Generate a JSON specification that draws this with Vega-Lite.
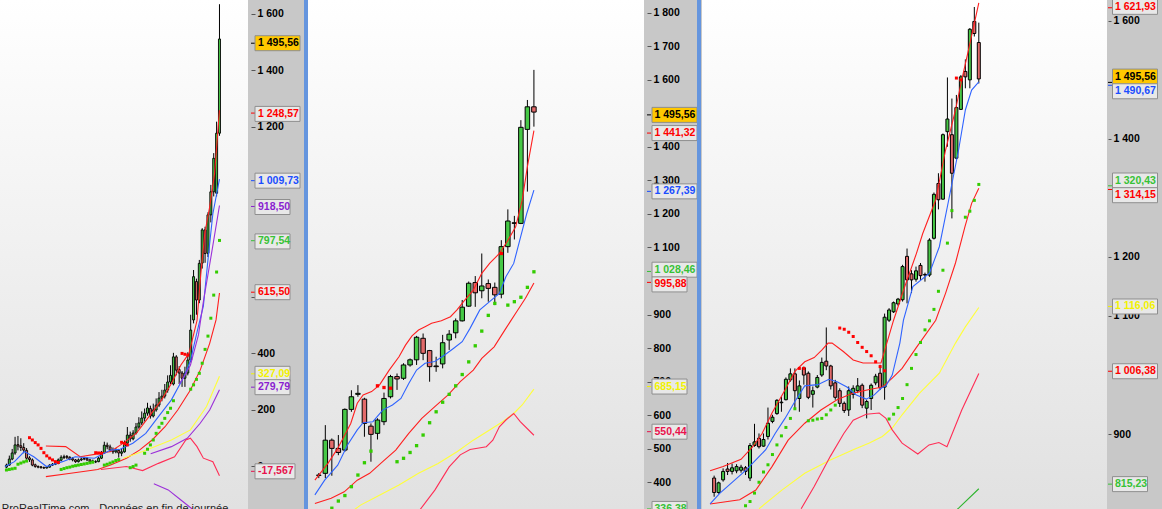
{
  "$schema": "https://vega.github.io/schema/vega-lite/v6.json",
  "padding": 0,
  "spacing": 0,
  "config": {"view": {"stroke": null}},
  "datasets": {
    "c1": [
      {"i":0,"o":12,"h":24,"l":8,"c":19},{"i":1,"o":19,"h":52,"l":17,"c":40},{"i":2,"o":40,"h":75,"l":36,"c":61},
      {"i":3,"o":61,"h":117,"l":55,"c":89},{"i":4,"o":90,"h":120,"l":70,"c":85},{"i":5,"o":86,"h":112,"l":68,"c":80},
      {"i":6,"o":80,"h":95,"l":60,"c":71},{"i":7,"o":70,"h":78,"l":38,"c":43},{"i":8,"o":44,"h":50,"l":30,"c":38},
      {"i":9,"o":37,"h":42,"l":15,"c":19},{"i":10,"o":20,"h":24,"l":10,"c":14},{"i":11,"o":14,"h":18,"l":8,"c":12},
      {"i":12,"o":13,"h":16,"l":7,"c":10},{"i":13,"o":10,"h":14,"l":6,"c":9},{"i":14,"o":9,"h":16,"l":7,"c":12},
      {"i":15,"o":12,"h":22,"l":10,"c":19},{"i":16,"o":19,"h":26,"l":16,"c":22},{"i":17,"o":22,"h":29,"l":19,"c":25},
      {"i":18,"o":25,"h":42,"l":22,"c":37},{"i":19,"o":36,"h":53,"l":33,"c":46},{"i":20,"o":45,"h":55,"l":40,"c":48},
      {"i":21,"o":49,"h":54,"l":40,"c":46},{"i":22,"o":46,"h":50,"l":36,"c":40},{"i":23,"o":41,"h":47,"l":32,"c":37},
      {"i":24,"o":37,"h":40,"l":27,"c":31},{"i":25,"o":31,"h":42,"l":28,"c":37},{"i":26,"o":37,"h":45,"l":33,"c":40},
      {"i":27,"o":40,"h":48,"l":36,"c":42},{"i":28,"o":42,"h":46,"l":33,"c":37},{"i":29,"o":37,"h":41,"l":28,"c":31},
      {"i":30,"o":33,"h":38,"l":27,"c":31},{"i":31,"o":30,"h":36,"l":26,"c":31},{"i":32,"o":31,"h":48,"l":29,"c":43},
      {"i":33,"o":43,"h":68,"l":40,"c":61},{"i":34,"o":61,"h":100,"l":58,"c":88},{"i":35,"o":88,"h":97,"l":74,"c":83},
      {"i":36,"o":82,"h":90,"l":64,"c":71},{"i":37,"o":71,"h":80,"l":58,"c":65},{"i":38,"o":65,"h":78,"l":60,"c":71},
      {"i":39,"o":70,"h":75,"l":45,"c":61},{"i":40,"o":60,"h":78,"l":50,"c":65},{"i":41,"o":65,"h":104,"l":62,"c":95},
      {"i":42,"o":95,"h":151,"l":92,"c":123},{"i":43,"o":123,"h":135,"l":100,"c":110},{"i":44,"o":110,"h":140,"l":105,"c":130},
      {"i":45,"o":130,"h":165,"l":125,"c":151},{"i":46,"o":151,"h":185,"l":145,"c":165},{"i":47,"o":165,"h":205,"l":158,"c":182},
      {"i":48,"o":182,"h":215,"l":170,"c":199},{"i":49,"o":199,"h":235,"l":190,"c":217},{"i":50,"o":215,"h":225,"l":180,"c":189},
      {"i":51,"o":189,"h":232,"l":184,"c":210},{"i":52,"o":210,"h":250,"l":204,"c":227},{"i":53,"o":227,"h":272,"l":220,"c":251},
      {"i":54,"o":251,"h":280,"l":240,"c":258},{"i":55,"o":258,"h":300,"l":250,"c":279},{"i":56,"o":279,"h":330,"l":270,"c":307},
      {"i":57,"o":307,"h":365,"l":300,"c":330},{"i":58,"o":300,"h":408,"l":295,"c":394},{"i":59,"o":394,"h":400,"l":330,"c":348},
      {"i":60,"o":350,"h":362,"l":300,"c":338},{"i":61,"o":338,"h":345,"l":290,"c":320},{"i":62,"o":320,"h":360,"l":290,"c":338},
      {"i":63,"o":338,"h":410,"l":330,"c":383},{"i":64,"o":383,"h":540,"l":375,"c":487},{"i":65,"o":522,"h":695,"l":510,"c":672},
      {"i":66,"o":655,"h":665,"l":540,"c":591},{"i":67,"o":591,"h":730,"l":580,"c":718},{"i":68,"o":719,"h":840,"l":700,"c":834},
      {"i":69,"o":834,"h":845,"l":720,"c":752},{"i":70,"o":753,"h":895,"l":740,"c":886},{"i":71,"o":886,"h":990,"l":860,"c":966},
      {"i":72,"o":966,"h":1100,"l":950,"c":1082},{"i":73,"o":961,"h":1209,"l":950,"c":1169},{"i":74,"o":1169,"h":1616,"l":1160,"c":1495.56}
    ],
    "l1": [
      {"s":"upper","i":13.7,"v":85},{"s":"upper","i":20.6,"v":83},{"s":"upper","i":25.6,"v":48},{"s":"upper","i":31.7,"v":58},
      {"s":"upper","i":36.2,"v":66},{"s":"upper","i":40.6,"v":95},{"s":"upper","i":45.1,"v":129},{"s":"upper","i":49.5,"v":187},
      {"s":"upper","i":53.9,"v":245},{"s":"upper","i":57.3,"v":302},{"s":"upper","i":60.6,"v":366},{"s":"upper","i":63.4,"v":406},
      {"s":"upper","i":66.2,"v":520},{"s":"upper","i":67.5,"v":680},{"s":"upper","i":68.9,"v":822},{"s":"upper","i":70.6,"v":914},
      {"s":"upper","i":72.3,"v":1030},{"s":"upper","i":74,"v":1248.57},
      {"s":"lower","i":13.7,"v":-21},{"s":"lower","i":21.7,"v":-10},{"s":"lower","i":31.7,"v":4},{"s":"lower","i":36.2,"v":19},
      {"s":"lower","i":41.7,"v":43},{"s":"lower","i":46.2,"v":71},{"s":"lower","i":50.6,"v":106},{"s":"lower","i":55.1,"v":152},
      {"s":"lower","i":59.5,"v":210},{"s":"lower","i":63.9,"v":279},{"s":"lower","i":67.3,"v":348},{"s":"lower","i":70.6,"v":441},
      {"s":"lower","i":72.8,"v":522},{"s":"lower","i":74,"v":615.5},
      {"s":"blue","i":-0.5,"v":14},{"s":"blue","i":2.8,"v":31},{"s":"blue","i":6.2,"v":66},{"s":"blue","i":9.5,"v":48},
      {"s":"blue","i":13.9,"v":14},{"s":"blue","i":19.5,"v":31},{"s":"blue","i":23.9,"v":48},{"s":"blue","i":30.6,"v":43},
      {"s":"blue","i":36.2,"v":71},{"s":"blue","i":39.5,"v":74},{"s":"blue","i":43.9,"v":95},{"s":"blue","i":48.4,"v":129},
      {"s":"blue","i":52.8,"v":187},{"s":"blue","i":57.3,"v":245},{"s":"blue","i":61.7,"v":326},{"s":"blue","i":63.9,"v":380},
      {"s":"blue","i":66.2,"v":480},{"s":"blue","i":68.4,"v":570},{"s":"blue","i":70.1,"v":740},{"s":"blue","i":71.7,"v":890},
      {"s":"blue","i":74,"v":1009.73},
      {"s":"purple","i":60,"v":300},{"s":"purple","i":61.7,"v":325},{"s":"purple","i":63.9,"v":365},{"s":"purple","i":66.7,"v":470},
      {"s":"purple","i":68.4,"v":585},{"s":"purple","i":71.2,"v":750},{"s":"purple","i":74,"v":918.5},
      {"s":"purple2","i":50.1,"v":58},{"s":"purple2","i":57.3,"v":83},{"s":"purple2","i":62.8,"v":112},{"s":"purple2","i":67.3,"v":164},
      {"s":"purple2","i":70.6,"v":210},{"s":"purple2","i":74,"v":279.79},
      {"s":"purple3","i":51.2,"v":-46},{"s":"purple3","i":56.2,"v":-67},{"s":"purple3","i":60.6,"v":-102},{"s":"purple3","i":64.5,"v":-133},
      {"s":"purple3","i":66.5,"v":-165},
      {"s":"yellow","i":40.6,"v":43},{"s":"yellow","i":47.3,"v":66},{"s":"yellow","i":57.3,"v":106},{"s":"yellow","i":63.9,"v":141},
      {"s":"yellow","i":69.5,"v":222},{"s":"yellow","i":74,"v":327.09},
      {"s":"osc","i":32.8,"v":4},{"s":"osc","i":41.7,"v":14},{"s":"osc","i":47.3,"v":0},{"s":"osc","i":52.8,"v":25},
      {"s":"osc","i":58.4,"v":48},{"s":"osc","i":62.3,"v":106},{"s":"osc","i":63.9,"v":112},{"s":"osc","i":66.2,"v":83},
      {"s":"osc","i":68.4,"v":43},{"s":"osc","i":71.7,"v":31},{"s":"osc","i":74,"v":-17.567}
    ],
    "s1": [
      {"i":0,"v":2,"d":"up"},{"i":1,"v":4,"d":"up"},{"i":2,"v":6,"d":"up"},{"i":3,"v":8,"d":"up"},{"i":4,"v":22,"d":"up"},
      {"i":5,"v":26,"d":"up"},{"i":6,"v":30,"d":"up"},{"i":7,"v":33,"d":"up"},
      {"i":8,"v":114,"d":"dn"},{"i":9,"v":106,"d":"dn"},{"i":10,"v":97,"d":"dn"},{"i":11,"v":89,"d":"dn"},{"i":12,"v":77,"d":"dn"},
      {"i":13,"v":62,"d":"dn"},{"i":14,"v":51,"d":"dn"},{"i":15,"v":43,"d":"dn"},{"i":16,"v":37,"d":"dn"},{"i":17,"v":31,"d":"dn"},
      {"i":18,"v":28,"d":"dn"},
      {"i":19,"v":4,"d":"up"},{"i":20,"v":7,"d":"up"},{"i":21,"v":10,"d":"up"},{"i":22,"v":12,"d":"up"},{"i":23,"v":15,"d":"up"},
      {"i":24,"v":17,"d":"up"},{"i":25,"v":19,"d":"up"},{"i":26,"v":21,"d":"up"},{"i":27,"v":23,"d":"up"},{"i":28,"v":25,"d":"up"},
      {"i":29,"v":27,"d":"up"},{"i":30,"v":29,"d":"up"},
      {"i":31,"v":62,"d":"dn"},{"i":32,"v":61,"d":"dn"},{"i":33,"v":60,"d":"dn"},
      {"i":34,"v":19,"d":"up"},{"i":35,"v":22,"d":"up"},{"i":36,"v":26,"d":"up"},{"i":37,"v":30,"d":"up"},{"i":38,"v":35,"d":"up"},
      {"i":39,"v":38,"d":"up"},
      {"i":40,"v":98,"d":"dn"},{"i":41,"v":94,"d":"dn"},{"i":42,"v":89,"d":"dn"},
      {"i":43,"v":10,"d":"up"},{"i":44,"v":14,"d":"up"},{"i":45,"v":19,"d":"up"},{"i":48,"v":60,"d":"up"},{"i":49,"v":74,"d":"up"},
      {"i":50,"v":89,"d":"up"},{"i":51,"v":106,"d":"up"},{"i":52,"v":129,"d":"up"},{"i":53,"v":150,"d":"up"},{"i":54,"v":164,"d":"up"},
      {"i":55,"v":181,"d":"up"},{"i":56,"v":201,"d":"up"},{"i":57,"v":216,"d":"up"},{"i":58,"v":242,"d":"up"},
      {"i":61,"v":406,"d":"dn"},{"i":62,"v":403,"d":"dn"},{"i":63,"v":400,"d":"dn"},
      {"i":64,"v":282,"d":"up"},{"i":65,"v":297,"d":"up"},{"i":66,"v":316,"d":"up"},{"i":67,"v":337,"d":"up"},{"i":68,"v":372,"d":"up"},
      {"i":69,"v":420,"d":"up"},{"i":70,"v":466,"d":"up"},{"i":71,"v":528,"d":"up"},{"i":72,"v":608,"d":"up"},{"i":73,"v":688,"d":"up"},
      {"i":74,"v":797.54,"d":"up"}
    ],
    "t1": [
      {"lbl":"1 495,56","k":"price","at":1495.56,"tick":1495.56},
      {"lbl":"1 248,57","k":"red","at":1245.7,"tick":1248.57},
      {"lbl":"1 009,73","k":"blue","at":1009.73,"tick":1009.73},
      {"lbl":"918,50","k":"purple","at":916.6,"tick":918.5},
      {"lbl":"797,54","k":"green","at":795,"tick":797.54},
      {"lbl":"615,50","k":"red","at":615.5,"tick":615.5},
      {"lbl":"327,09","k":"yellow","at":327.09,"tick":327.09},
      {"lbl":"279,79","k":"purple","at":279.79,"tick":279.79},
      {"lbl":"-17,567","k":"crimson","at":-17.567,"tick":-17.567}
    ],
    "c2": [
      {"i":0,"o":433,"h":440,"l":425,"c":434},{"i":1,"o":439,"h":580,"l":425,"c":536},{"i":2,"o":536,"h":541,"l":432,"c":512},
      {"i":3,"o":512,"h":551,"l":492,"c":500},{"i":4,"o":507,"h":629,"l":502,"c":626},{"i":5,"o":626,"h":682,"l":619,"c":663},
      {"i":6,"o":670,"h":697,"l":663,"c":673},{"i":7,"o":656,"h":660,"l":546,"c":585},{"i":8,"o":577,"h":585,"l":473,"c":553},
      {"i":9,"o":556,"h":600,"l":538,"c":595},{"i":10,"o":590,"h":675,"l":580,"c":658},{"i":11,"o":663,"h":727,"l":658,"c":722},
      {"i":12,"o":722,"h":731,"l":683,"c":715},{"i":13,"o":717,"h":761,"l":712,"c":756},{"i":14,"o":756,"h":775,"l":751,"c":771},
      {"i":15,"o":771,"h":841,"l":756,"c":837},{"i":16,"o":834,"h":848,"l":770,"c":790},{"i":17,"o":798,"h":800,"l":707,"c":751},
      {"i":18,"o":753,"h":780,"l":736,"c":751},{"i":19,"o":759,"h":844,"l":746,"c":821},{"i":20,"o":829,"h":858,"l":800,"c":846},
      {"i":21,"o":850,"h":892,"l":834,"c":885},{"i":22,"o":885,"h":946,"l":883,"c":925},{"i":23,"o":928,"h":1000,"l":926,"c":995},
      {"i":24,"o":997,"h":1016,"l":926,"c":967},{"i":25,"o":973,"h":1082,"l":951,"c":987},{"i":26,"o":994,"h":1006,"l":941,"c":980},
      {"i":27,"o":983,"h":997,"l":931,"c":961},{"i":28,"o":963,"h":1121,"l":951,"c":1102},{"i":29,"o":1102,"h":1211,"l":1084,"c":1177},
      {"i":30,"o":1172,"h":1192,"l":1123,"c":1170},{"i":31,"o":1170,"h":1472,"l":1168,"c":1451},{"i":32,"o":1445,"h":1531,"l":1263,"c":1511},
      {"i":33,"o":1511,"h":1619,"l":1453,"c":1495.56}
    ],
    "l2": [
      {"s":"upper","i":-0.6,"v":419},{"s":"upper","i":1.4,"v":468},{"s":"upper","i":2.9,"v":512},{"s":"upper","i":4.9,"v":585},
      {"s":"upper","i":5.9,"v":644},{"s":"upper","i":6.8,"v":668},{"s":"upper","i":8.1,"v":678},{"s":"upper","i":9.3,"v":697},
      {"s":"upper","i":10.8,"v":741},{"s":"upper","i":12.3,"v":780},{"s":"upper","i":13.3,"v":814},{"s":"upper","i":14.3,"v":841},
      {"s":"upper","i":15.3,"v":858},{"s":"upper","i":16.3,"v":868},{"s":"upper","i":17.3,"v":878},{"s":"upper","i":18.8,"v":885},
      {"s":"upper","i":20.2,"v":897},{"s":"upper","i":21.2,"v":917},{"s":"upper","i":22.2,"v":941},{"s":"upper","i":23.7,"v":975},
      {"s":"upper","i":25,"v":1024},{"s":"upper","i":26.2,"v":1053},{"s":"upper","i":27.7,"v":1082},{"s":"upper","i":28.9,"v":1117},
      {"s":"upper","i":30.2,"v":1160},{"s":"upper","i":31.2,"v":1238},{"s":"upper","i":32,"v":1336},{"s":"upper","i":33,"v":1441.32},
      {"s":"blue","i":-0.6,"v":376},{"s":"blue","i":0.9,"v":419},{"s":"blue","i":2.9,"v":463},{"s":"blue","i":4.4,"v":522},
      {"s":"blue","i":5.9,"v":566},{"s":"blue","i":6.8,"v":587},{"s":"blue","i":8.3,"v":590},{"s":"blue","i":9.8,"v":624},
      {"s":"blue","i":11.3,"v":639},{"s":"blue","i":12.6,"v":658},{"s":"blue","i":13.8,"v":702},{"s":"blue","i":15,"v":741},
      {"s":"blue","i":16.3,"v":761},{"s":"blue","i":17.8,"v":766},{"s":"blue","i":19.3,"v":785},{"s":"blue","i":20.7,"v":805},
      {"s":"blue","i":22,"v":824},{"s":"blue","i":23.2,"v":863},{"s":"blue","i":24.7,"v":917},{"s":"blue","i":26.2,"v":941},
      {"s":"blue","i":27.7,"v":965},{"s":"blue","i":28.7,"v":1014},{"s":"blue","i":29.9,"v":1053},{"s":"blue","i":30.9,"v":1126},
      {"s":"blue","i":31.9,"v":1199},{"s":"blue","i":33,"v":1267.39},
      {"s":"lower","i":-0.6,"v":351},{"s":"lower","i":1.9,"v":366},{"s":"lower","i":3.9,"v":385},{"s":"lower","i":5.9,"v":419},
      {"s":"lower","i":7.8,"v":439},{"s":"lower","i":9.8,"v":473},{"s":"lower","i":11.8,"v":507},{"s":"lower","i":13.8,"v":556},
      {"s":"lower","i":15.8,"v":600},{"s":"lower","i":17.8,"v":634},{"s":"lower","i":19.8,"v":668},{"s":"lower","i":21.7,"v":707},
      {"s":"lower","i":23.7,"v":741},{"s":"lower","i":25,"v":775},{"s":"lower","i":26.9,"v":809},{"s":"lower","i":28.7,"v":863},
      {"s":"lower","i":30.2,"v":907},{"s":"lower","i":31.7,"v":951},{"s":"lower","i":33,"v":995.88},
      {"s":"yellow","i":5.4,"v":332},{"s":"yellow","i":6.4,"v":346},{"s":"yellow","i":9.3,"v":375},{"s":"yellow","i":12.3,"v":405},
      {"s":"yellow","i":15.3,"v":439},{"s":"yellow","i":18.3,"v":468},{"s":"yellow","i":21.2,"v":502},{"s":"yellow","i":23.7,"v":536},
      {"s":"yellow","i":26.2,"v":566},{"s":"yellow","i":28.2,"v":590},{"s":"yellow","i":29.9,"v":614},{"s":"yellow","i":31.2,"v":639},
      {"s":"yellow","i":33,"v":685.15},
      {"s":"osc","i":15.5,"v":332},{"s":"osc","i":17.8,"v":390},{"s":"osc","i":20,"v":458},{"s":"osc","i":21.7,"v":493},
      {"s":"osc","i":23.2,"v":509},{"s":"osc","i":25.7,"v":517},{"s":"osc","i":26.7,"v":536},{"s":"osc","i":27.7,"v":575},
      {"s":"osc","i":28.7,"v":595},{"s":"osc","i":29.9,"v":614},{"s":"osc","i":30.9,"v":590},{"s":"osc","i":33,"v":550.44}
    ],
    "s2": [
      {"i":2,"v":337,"d":"up"},{"i":3,"v":358,"d":"up"},{"i":4,"v":374,"d":"up"},{"i":5,"v":400,"d":"up"},{"i":6,"v":434,"d":"up"},
      {"i":7,"v":470,"d":"up"},{"i":8,"v":504,"d":"up"},
      {"i":9,"v":695,"d":"dn"},{"i":10,"v":690,"d":"dn"},{"i":11,"v":688,"d":"dn"},
      {"i":12,"v":473,"d":"up"},{"i":13,"v":483,"d":"up"},{"i":14,"v":500,"d":"up"},{"i":15,"v":520,"d":"up"},{"i":16,"v":551,"d":"up"},
      {"i":17,"v":587,"d":"up"},{"i":18,"v":619,"d":"up"},{"i":19,"v":647,"d":"up"},{"i":20,"v":670,"d":"up"},{"i":21,"v":695,"d":"up"},
      {"i":22,"v":728,"d":"up"},{"i":23,"v":765,"d":"up"},{"i":24,"v":812,"d":"up"},{"i":25,"v":855,"d":"up"},{"i":26,"v":901,"d":"up"},
      {"i":27,"v":936,"d":"up"},
      {"i":28,"v":1082,"d":"dn"},
      {"i":29,"v":931,"d":"up"},{"i":30,"v":941,"d":"up"},{"i":31,"v":954,"d":"up"},{"i":32,"v":983,"d":"up"},{"i":33,"v":1028.46,"d":"up"}
    ],
    "t2": [
      {"lbl":"1 495,56","k":"price","at":1495.56,"tick":1495.56},
      {"lbl":"1 441,32","k":"red","at":1441.32,"tick":1441.32},
      {"lbl":"1 267,39","k":"blue","at":1267.39,"tick":1267.39},
      {"lbl":"1 028,46","k":"green","at":1033.7,"tick":1028.46},
      {"lbl":"995,88","k":"red","at":989.8,"tick":995.88},
      {"lbl":"685,15","k":"yellow","at":685.15,"tick":685.15},
      {"lbl":"550,44","k":"crimson","at":550.44,"tick":550.44},
      {"lbl":"336,38","k":"green","at":320,"tick":320}
    ],
    "c3": [
      {"i":0,"o":833,"h":837,"l":802,"c":809},{"i":1,"o":809,"h":827,"l":807,"c":825},{"i":2,"o":830,"h":849,"l":827,"c":844},
      {"i":3,"o":848,"h":858,"l":838,"c":844},{"i":4,"o":844,"h":857,"l":839,"c":850},{"i":5,"o":845,"h":856,"l":841,"c":852},
      {"i":6,"o":846,"h":855,"l":842,"c":851},{"i":7,"o":850,"h":853,"l":838,"c":844},{"i":8,"o":833,"h":891,"l":828,"c":887},
      {"i":9,"o":887,"h":923,"l":885,"c":893},{"i":10,"o":899,"h":907,"l":882,"c":885},{"i":11,"o":886,"h":907,"l":885,"c":897},
      {"i":12,"o":902,"h":950,"l":897,"c":924},{"i":13,"o":927,"h":938,"l":924,"c":934},{"i":14,"o":940,"h":964,"l":938,"c":962},
      {"i":15,"o":958,"h":968,"l":943,"c":959},{"i":16,"o":963,"h":1000,"l":962,"c":997},{"i":17,"o":996,"h":1015,"l":993,"c":1006},
      {"i":18,"o":1006,"h":1015,"l":946,"c":978},{"i":19,"o":965,"h":995,"l":943,"c":986},{"i":20,"o":1016,"h":1018,"l":988,"c":1004},
      {"i":21,"o":1007,"h":1010,"l":964,"c":967},{"i":22,"o":972,"h":985,"l":950,"c":978},{"i":23,"o":984,"h":1004,"l":982,"c":1000},
      {"i":24,"o":1004,"h":1033,"l":1001,"c":1025},{"i":25,"o":1027,"h":1083,"l":1012,"c":1019},{"i":26,"o":1019,"h":1021,"l":980,"c":986},
      {"i":27,"o":991,"h":996,"l":963,"c":967},{"i":28,"o":978,"h":982,"l":951,"c":957},{"i":29,"o":957,"h":960,"l":941,"c":945},
      {"i":30,"o":946,"h":985,"l":936,"c":978},{"i":31,"o":972,"h":987,"l":965,"c":982},{"i":32,"o":978,"h":999,"l":974,"c":986},
      {"i":33,"o":987,"h":990,"l":949,"c":954},{"i":34,"o":949,"h":963,"l":932,"c":960},{"i":35,"o":965,"h":990,"l":946,"c":987},
      {"i":36,"o":991,"h":1006,"l":987,"c":1002},{"i":37,"o":1007,"h":1021,"l":979,"c":983},{"i":38,"o":984,"h":1106,"l":963,"c":1100},
      {"i":39,"o":1095,"h":1115,"l":1092,"c":1112},{"i":40,"o":1109,"h":1126,"l":1107,"c":1124},{"i":41,"o":1122,"h":1132,"l":1119,"c":1130},
      {"i":42,"o":1129,"h":1187,"l":1126,"c":1184},{"i":43,"o":1201,"h":1214,"l":1123,"c":1162},{"i":44,"o":1172,"h":1178,"l":1140,"c":1162},
      {"i":45,"o":1163,"h":1184,"l":1159,"c":1177},{"i":46,"o":1186,"h":1190,"l":1162,"c":1169},{"i":47,"o":1171,"h":1174,"l":1159,"c":1170},
      {"i":48,"o":1170,"h":1231,"l":1167,"c":1228},{"i":49,"o":1231,"h":1307,"l":1229,"c":1304},{"i":50,"o":1322,"h":1339,"l":1279,"c":1295},
      {"i":51,"o":1296,"h":1405,"l":1295,"c":1403},{"i":52,"o":1408,"h":1498,"l":1383,"c":1429},{"i":53,"o":1403,"h":1463,"l":1264,"c":1339},
      {"i":54,"o":1364,"h":1469,"l":1362,"c":1448},{"i":55,"o":1445,"h":1502,"l":1444,"c":1499},{"i":56,"o":1508,"h":1528,"l":1480,"c":1499},
      {"i":57,"o":1494,"h":1580,"l":1480,"c":1578},{"i":58,"o":1591,"h":1615,"l":1566,"c":1571},{"i":59,"o":1556,"h":1589,"l":1488,"c":1495.56}
    ],
    "l3": [
      {"s":"upper","i":-0.9,"v":845},{"s":"upper","i":2,"v":852},{"s":"upper","i":6,"v":864},{"s":"upper","i":8.6,"v":885},
      {"s":"upper","i":10.7,"v":907},{"s":"upper","i":12.9,"v":941},{"s":"upper","i":15.8,"v":979},{"s":"upper","i":18,"v":1010},
      {"s":"upper","i":20.2,"v":1026},{"s":"upper","i":22.3,"v":1033},{"s":"upper","i":24.1,"v":1046},{"s":"upper","i":25.4,"v":1057},
      {"s":"upper","i":26.3,"v":1057},{"s":"upper","i":28.8,"v":1043},{"s":"upper","i":31,"v":1029},{"s":"upper","i":33.2,"v":1024},
      {"s":"upper","i":37.2,"v":1024},{"s":"upper","i":40,"v":1095},{"s":"upper","i":42.5,"v":1151},{"s":"upper","i":45.1,"v":1206},
      {"s":"upper","i":46.5,"v":1239},{"s":"upper","i":49.4,"v":1295},{"s":"upper","i":51.6,"v":1378},{"s":"upper","i":53.8,"v":1444},
      {"s":"upper","i":55.2,"v":1494},{"s":"upper","i":56.7,"v":1544},{"s":"upper","i":59,"v":1621.93},
      {"s":"lower","i":-0.9,"v":790},{"s":"lower","i":5.7,"v":797},{"s":"lower","i":9.3,"v":813},{"s":"lower","i":12.9,"v":852},
      {"s":"lower","i":16.5,"v":896},{"s":"lower","i":20.2,"v":924},{"s":"lower","i":23.8,"v":946},{"s":"lower","i":27.4,"v":963},
      {"s":"lower","i":31,"v":974},{"s":"lower","i":34.6,"v":980},{"s":"lower","i":37.5,"v":984},{"s":"lower","i":39.7,"v":999},
      {"s":"lower","i":41.9,"v":1015},{"s":"lower","i":45.1,"v":1050},{"s":"lower","i":49.4,"v":1095},{"s":"lower","i":51.6,"v":1140},
      {"s":"lower","i":53.8,"v":1190},{"s":"lower","i":55.9,"v":1250},{"s":"lower","i":57.4,"v":1289},{"s":"lower","i":59,"v":1314.15},
      {"s":"blue","i":-0.9,"v":790},{"s":"blue","i":1.3,"v":808},{"s":"blue","i":4.2,"v":827},{"s":"blue","i":7.1,"v":846},
      {"s":"blue","i":9.3,"v":863},{"s":"blue","i":11.5,"v":880},{"s":"blue","i":13.6,"v":907},{"s":"blue","i":15.8,"v":932},
      {"s":"blue","i":18,"v":960},{"s":"blue","i":20.2,"v":986},{"s":"blue","i":23.1,"v":988},{"s":"blue","i":25.6,"v":997},
      {"s":"blue","i":27.4,"v":993},{"s":"blue","i":29.6,"v":984},{"s":"blue","i":31.7,"v":971},{"s":"blue","i":33.9,"v":964},
      {"s":"blue","i":35.7,"v":971},{"s":"blue","i":37.2,"v":982},{"s":"blue","i":38.3,"v":986},{"s":"blue","i":39.7,"v":1004},
      {"s":"blue","i":41.4,"v":1057},{"s":"blue","i":42.2,"v":1095},{"s":"blue","i":44.3,"v":1151},{"s":"blue","i":48,"v":1173},
      {"s":"blue","i":50.2,"v":1217},{"s":"blue","i":52.3,"v":1295},{"s":"blue","i":54.5,"v":1378},{"s":"blue","i":56,"v":1444},
      {"s":"blue","i":57.4,"v":1477},{"s":"blue","i":59,"v":1490.67},
      {"s":"yellow","i":10,"v":782},{"s":"yellow","i":15.1,"v":813},{"s":"yellow","i":20.2,"v":841},{"s":"yellow","i":25.9,"v":863},
      {"s":"yellow","i":31,"v":880},{"s":"yellow","i":34.6,"v":891},{"s":"yellow","i":37.5,"v":902},{"s":"yellow","i":39.7,"v":916},
      {"s":"yellow","i":41.9,"v":938},{"s":"yellow","i":45.8,"v":974},{"s":"yellow","i":50.2,"v":1007},{"s":"yellow","i":53.8,"v":1057},
      {"s":"yellow","i":56,"v":1084},{"s":"yellow","i":59,"v":1116.06},
      {"s":"osc","i":19.4,"v":782},{"s":"osc","i":22.3,"v":819},{"s":"osc","i":25.9,"v":869},{"s":"osc","i":28.9,"v":907},
      {"s":"osc","i":31,"v":929},{"s":"osc","i":33.9,"v":939},{"s":"osc","i":36.8,"v":941},{"s":"osc","i":38.3,"v":932},
      {"s":"osc","i":39.7,"v":913},{"s":"osc","i":41.9,"v":891},{"s":"osc","i":45.4,"v":873},{"s":"osc","i":47.9,"v":888},
      {"s":"osc","i":50.1,"v":892},{"s":"osc","i":51.9,"v":885},{"s":"osc","i":55.2,"v":946},{"s":"osc","i":59,"v":1006.38},
      {"s":"green","i":52,"v":768},{"s":"green","i":54.5,"v":783},{"s":"green","i":59,"v":815.23}
    ],
    "s3": [
      {"i":7,"v":787,"d":"up"},{"i":8,"v":794,"d":"up"},{"i":9,"v":808,"d":"up"},{"i":10,"v":826,"d":"up"},{"i":11,"v":843,"d":"up"},
      {"i":12,"v":855,"d":"up"},{"i":13,"v":872,"d":"up"},{"i":14,"v":888,"d":"up"},{"i":15,"v":903,"d":"up"},{"i":16,"v":917,"d":"up"},
      {"i":17,"v":932,"d":"up"},{"i":18,"v":948,"d":"up"},
      {"i":19,"v":1015,"d":"dn"},{"i":20,"v":1015,"d":"dn"},
      {"i":21,"v":928,"d":"up"},{"i":22,"v":929,"d":"up"},{"i":23,"v":931,"d":"up"},{"i":24,"v":932,"d":"up"},{"i":25,"v":938,"d":"up"},
      {"i":26,"v":946,"d":"up"},{"i":27,"v":954,"d":"up"},
      {"i":28,"v":1082,"d":"dn"},{"i":29,"v":1080,"d":"dn"},{"i":30,"v":1075,"d":"dn"},{"i":31,"v":1068,"d":"dn"},{"i":32,"v":1058,"d":"dn"},
      {"i":33,"v":1050,"d":"dn"},{"i":34,"v":1043,"d":"dn"},{"i":35,"v":1036,"d":"dn"},{"i":36,"v":1026,"d":"dn"},{"i":37,"v":1018,"d":"dn"},
      {"i":38,"v":1011,"d":"dn"},
      {"i":39,"v":931,"d":"up"},{"i":40,"v":939,"d":"up"},{"i":41,"v":950,"d":"up"},{"i":42,"v":965,"d":"up"},{"i":43,"v":988,"d":"up"},
      {"i":44,"v":1015,"d":"up"},{"i":45,"v":1038,"d":"up"},{"i":46,"v":1058,"d":"up"},{"i":47,"v":1079,"d":"up"},{"i":48,"v":1094,"d":"up"},
      {"i":49,"v":1113,"d":"up"},{"i":50,"v":1143,"d":"up"},{"i":51,"v":1178,"d":"up"},{"i":52,"v":1223,"d":"up"},{"i":53,"v":1277,"d":"up"},
      {"i":54,"v":1497,"d":"dn"},{"i":55,"v":1494,"d":"dn"},
      {"i":56,"v":1266,"d":"up"},{"i":57,"v":1276,"d":"up"},{"i":58,"v":1294,"d":"up"},{"i":59,"v":1320.43,"d":"up"}
    ],
    "t3": [
      {"lbl":"1 621,93","k":"red","at":1623.5,"tick":1621.93},
      {"lbl":"1 495,56","k":"price","at":1505.4,"tick":1495.56},
      {"lbl":"1 490,67","k":"blue","at":1480.5,"tick":1490.67},
      {"lbl":"1 320,43","k":"green","at":1329.4,"tick":1320.43},
      {"lbl":"1 314,15","k":"red","at":1304.5,"tick":1314.15},
      {"lbl":"1 116,06","k":"yellow","at":1116.06,"tick":1116.06},
      {"lbl":"1 006,38","k":"red","at":1006.38,"tick":1006.38},
      {"lbl":"815,23","k":"green","at":815.23,"tick":815.23}
    ]
  },
  "hconcat": [
    {
      "width": 248, "height": 509,
      "view": {"stroke": null, "fill": {"gradient": "linear", "x1": 0, "y1": 0, "x2": 0, "y2": 1, "stops": [{"offset": 0, "color": "#ffffff"}, {"offset": 1, "color": "#e1e1e1"}]}},
      "layer": [
        {"data": {"name": "c1"}, "mark": {"type": "rule", "color": "#000000", "strokeWidth": 1, "clip": true},
         "encoding": {"x": {"field": "i", "type": "quantitative", "scale": {"domain": [-0.5, 82.17], "nice": false, "zero": false}, "axis": null},
                      "y": {"field": "l", "type": "quantitative", "scale": {"domain": [-133.1, 1630.6], "nice": false, "zero": false}, "axis": null},
                      "y2": {"field": "h"}}},
        {"data": {"name": "c1"}, "mark": {"type": "bar", "width": 2, "stroke": "#000000", "strokeWidth": 0.9, "clip": true},
         "encoding": {"x": {"field": "i", "type": "quantitative"}, "y": {"field": "o", "type": "quantitative", "axis": null}, "y2": {"field": "c"},
                      "fill": {"condition": {"test": "datum.c < datum.o", "value": "#e26a6a"}, "value": "#46c846"}}},
        {"data": {"name": "l1"}, "mark": {"type": "line", "strokeWidth": 1.1, "clip": true},
         "encoding": {"x": {"field": "i", "type": "quantitative"}, "y": {"field": "v", "type": "quantitative", "axis": null},
                      "color": {"field": "s", "type": "nominal", "legend": null, "scale": {"domain": ["upper", "lower", "blue", "purple", "purple2", "purple3", "yellow", "osc", "green"], "range": ["#ff1f1f", "#ff1f1f", "#2f63ff", "#9b30d9", "#9b30d9", "#9b30d9", "#ffff3a", "#ff2d55", "#2fb52f"]}},
                      "order": {"field": "i", "type": "quantitative"}}},
        {"data": {"name": "s1"}, "mark": {"type": "square", "size": 9, "opacity": 1, "clip": true},
         "encoding": {"x": {"field": "i", "type": "quantitative"}, "y": {"field": "v", "type": "quantitative", "axis": null},
                      "color": {"condition": {"test": "datum.d === 'dn'", "value": "#ff0000"}, "value": "#33cc00"}}},
        {"data": {"values": [{"i": -1.6, "v": -112.3, "t": "ProRealTime.com - Données en fin de journée"}]},
         "mark": {"type": "text", "align": "left", "baseline": "top", "font": "Liberation Sans", "fontSize": 11, "color": "#222222", "clip": true},
         "encoding": {"x": {"field": "i", "type": "quantitative"}, "y": {"field": "v", "type": "quantitative", "axis": null}, "text": {"field": "t"}}}
      ]
    },
    {
      "width": 60, "height": 509,
      "view": {"stroke": null, "fill": "#c8c8c8"},
      "data": {"name": "t1"},
      "transform": [
        {"calculate": "3", "as": "d0"}, {"calculate": "7", "as": "d1"}, {"calculate": "7", "as": "b0"},
        {"calculate": "12 + 5 * length(datum.lbl)", "as": "b1"}, {"calculate": "10", "as": "tx"},
        {"calculate": "56", "as": "e0"}, {"calculate": "60", "as": "e1"}
      ],
      "layer": [
        {"mark": {"type": "rule", "strokeWidth": 1, "clip": true},
         "encoding": {"x": {"field": "d0", "type": "quantitative", "scale": {"domain": [0, 60], "nice": false, "zero": false}, "axis": null},
                      "x2": {"field": "d1"},
                      "y": {"field": "tick", "type": "quantitative", "scale": {"domain": [-133.1, 1630.6], "nice": false, "zero": false},
                            "axis": {"orient": "right", "offset": -57, "values": [0, 200, 400, 600, 1200, 1400, 1600], "title": null, "domain": false, "grid": false, "tickSize": 4, "tickColor": "#555555", "labelPadding": 2, "labelFont": "Liberation Sans", "labelFontWeight": "bold", "labelFontSize": 10.5, "labelColor": "#000000", "labelFlush": false, "labelOverlap": false, "labelExpr": "replace(format(datum.value, ','), ',', ' ')"}},
                      "color": {"condition": [{"test": "datum.k === 'price'", "value": "#000000"}, {"test": "datum.k === 'red'", "value": "#ff0000"}, {"test": "datum.k === 'blue'", "value": "#1a4dff"}, {"test": "datum.k === 'purple'", "value": "#8a1ed0"}, {"test": "datum.k === 'green'", "value": "#36c236"}, {"test": "datum.k === 'yellow'", "value": "#f2f200"}], "value": "#e8124c"}}},
        {"mark": {"type": "bar", "orient": "horizontal", "height": 15, "stroke": "#8e8e8e", "strokeWidth": 1, "clip": true},
         "encoding": {"x": {"field": "b0", "type": "quantitative"}, "x2": {"field": "b1"}, "y": {"field": "at", "type": "quantitative"},
                      "fill": {"condition": {"test": "datum.k === 'price'", "value": "#ffc800"}, "value": "#e8e8e8"}}},
        {"mark": {"type": "text", "align": "left", "baseline": "middle", "font": "Liberation Sans", "fontWeight": "bold", "fontSize": 10.5, "clip": true},
         "encoding": {"x": {"field": "tx", "type": "quantitative"}, "y": {"field": "at", "type": "quantitative"}, "text": {"field": "lbl"},
                      "color": {"condition": [{"test": "datum.k === 'price'", "value": "#000000"}, {"test": "datum.k === 'red'", "value": "#ff0000"}, {"test": "datum.k === 'blue'", "value": "#1a4dff"}, {"test": "datum.k === 'purple'", "value": "#8a1ed0"}, {"test": "datum.k === 'green'", "value": "#36c236"}, {"test": "datum.k === 'yellow'", "value": "#f2f200"}], "value": "#e8124c"}}},
        {"mark": {"type": "rect", "fill": "#6595de"},
         "encoding": {"x": {"field": "e0", "type": "quantitative"}, "x2": {"field": "e1"}}}
      ]
    },
    {
      "width": 336, "height": 509,
      "view": {"stroke": null, "fill": {"gradient": "linear", "x1": 0, "y1": 0, "x2": 0, "y2": 1, "stops": [{"offset": 0, "color": "#ffffff"}, {"offset": 1, "color": "#e1e1e1"}]}},
      "layer": [
        {"data": {"name": "c2"}, "mark": {"type": "rule", "color": "#000000", "strokeWidth": 1, "clip": true},
         "encoding": {"x": {"field": "i", "type": "quantitative", "scale": {"domain": [-0.89, 49.12], "nice": false, "zero": false}, "axis": null},
                      "y": {"field": "l", "type": "quantitative", "scale": {"domain": [334.7, 1823.4], "nice": false, "zero": false}, "axis": null},
                      "y2": {"field": "h"}}},
        {"data": {"name": "c2"}, "mark": {"type": "bar", "width": 4.5, "stroke": "#000000", "strokeWidth": 1, "clip": true},
         "encoding": {"x": {"field": "i", "type": "quantitative"}, "y": {"field": "o", "type": "quantitative", "axis": null}, "y2": {"field": "c"},
                      "fill": {"condition": {"test": "datum.c < datum.o", "value": "#e26a6a"}, "value": "#46c846"}}},
        {"data": {"name": "l2"}, "mark": {"type": "line", "strokeWidth": 1.1, "clip": true},
         "encoding": {"x": {"field": "i", "type": "quantitative"}, "y": {"field": "v", "type": "quantitative", "axis": null},
                      "color": {"field": "s", "type": "nominal", "legend": null, "scale": {"domain": ["upper", "lower", "blue", "purple", "purple2", "purple3", "yellow", "osc", "green"], "range": ["#ff1f1f", "#ff1f1f", "#2f63ff", "#9b30d9", "#9b30d9", "#9b30d9", "#ffff3a", "#ff2d55", "#2fb52f"]}},
                      "order": {"field": "i", "type": "quantitative"}}},
        {"data": {"name": "s2"}, "mark": {"type": "square", "size": 11, "opacity": 1, "clip": true},
         "encoding": {"x": {"field": "i", "type": "quantitative"}, "y": {"field": "v", "type": "quantitative", "axis": null},
                      "color": {"condition": {"test": "datum.d === 'dn'", "value": "#ff0000"}, "value": "#33cc00"}}}
      ]
    },
    {
      "width": 58, "height": 509,
      "view": {"stroke": null, "fill": "#c8c8c8"},
      "data": {"name": "t2"},
      "transform": [
        {"calculate": "3", "as": "d0"}, {"calculate": "7", "as": "d1"}, {"calculate": "8", "as": "b0"},
        {"calculate": "13 + 5 * length(datum.lbl)", "as": "b1"}, {"calculate": "10.5", "as": "tx"},
        {"calculate": "53", "as": "e0"}, {"calculate": "57", "as": "e1"}
      ],
      "layer": [
        {"mark": {"type": "rule", "strokeWidth": 1, "clip": true},
         "encoding": {"x": {"field": "d0", "type": "quantitative", "scale": {"domain": [0, 58], "nice": false, "zero": false}, "axis": null},
                      "x2": {"field": "d1"},
                      "y": {"field": "tick", "type": "quantitative", "scale": {"domain": [334.7, 1823.4], "nice": false, "zero": false},
                            "axis": {"orient": "right", "offset": -55, "values": [400, 500, 600, 700, 800, 900, 1100, 1200, 1300, 1400, 1600, 1700, 1800], "title": null, "domain": false, "grid": false, "tickSize": 4, "tickColor": "#555555", "labelPadding": 2, "labelFont": "Liberation Sans", "labelFontWeight": "bold", "labelFontSize": 10.5, "labelColor": "#000000", "labelFlush": false, "labelOverlap": false, "labelExpr": "replace(format(datum.value, ','), ',', ' ')"}},
                      "color": {"condition": [{"test": "datum.k === 'price'", "value": "#000000"}, {"test": "datum.k === 'red'", "value": "#ff0000"}, {"test": "datum.k === 'blue'", "value": "#1a4dff"}, {"test": "datum.k === 'purple'", "value": "#8a1ed0"}, {"test": "datum.k === 'green'", "value": "#36c236"}, {"test": "datum.k === 'yellow'", "value": "#f2f200"}], "value": "#e8124c"}}},
        {"mark": {"type": "bar", "orient": "horizontal", "height": 15, "stroke": "#8e8e8e", "strokeWidth": 1, "clip": true},
         "encoding": {"x": {"field": "b0", "type": "quantitative"}, "x2": {"field": "b1"}, "y": {"field": "at", "type": "quantitative"},
                      "fill": {"condition": {"test": "datum.k === 'price'", "value": "#ffc800"}, "value": "#e8e8e8"}}},
        {"mark": {"type": "text", "align": "left", "baseline": "middle", "font": "Liberation Sans", "fontWeight": "bold", "fontSize": 10.5, "clip": true},
         "encoding": {"x": {"field": "tx", "type": "quantitative"}, "y": {"field": "at", "type": "quantitative"}, "text": {"field": "lbl"},
                      "color": {"condition": [{"test": "datum.k === 'price'", "value": "#000000"}, {"test": "datum.k === 'red'", "value": "#ff0000"}, {"test": "datum.k === 'blue'", "value": "#1a4dff"}, {"test": "datum.k === 'purple'", "value": "#8a1ed0"}, {"test": "datum.k === 'green'", "value": "#36c236"}, {"test": "datum.k === 'yellow'", "value": "#f2f200"}], "value": "#e8124c"}}},
        {"mark": {"type": "rect", "fill": "#6595de"},
         "encoding": {"x": {"field": "e0", "type": "quantitative"}, "x2": {"field": "e1"}}}
      ]
    },
    {
      "width": 405, "height": 509,
      "view": {"stroke": null, "fill": {"gradient": "linear", "x1": 0, "y1": 0, "x2": 0, "y2": 1, "stops": [{"offset": 0, "color": "#ffffff"}, {"offset": 1, "color": "#e1e1e1"}]}},
      "layer": [
        {"data": {"name": "c3"}, "mark": {"type": "rule", "color": "#000000", "strokeWidth": 1, "clip": true},
         "encoding": {"x": {"field": "i", "type": "quantitative", "scale": {"domain": [-1.59, 86.46], "nice": false, "zero": false}, "axis": null},
                      "y": {"field": "l", "type": "quantitative", "scale": {"domain": [781.6, 1626.6], "nice": false, "zero": false}, "axis": null},
                      "y2": {"field": "h"}}},
        {"data": {"name": "c3"}, "mark": {"type": "bar", "width": 3, "stroke": "#000000", "strokeWidth": 1, "clip": true},
         "encoding": {"x": {"field": "i", "type": "quantitative"}, "y": {"field": "o", "type": "quantitative", "axis": null}, "y2": {"field": "c"},
                      "fill": {"condition": {"test": "datum.c < datum.o", "value": "#e26a6a"}, "value": "#46c846"}}},
        {"data": {"name": "l3"}, "mark": {"type": "line", "strokeWidth": 1.1, "clip": true},
         "encoding": {"x": {"field": "i", "type": "quantitative"}, "y": {"field": "v", "type": "quantitative", "axis": null},
                      "color": {"field": "s", "type": "nominal", "legend": null, "scale": {"domain": ["upper", "lower", "blue", "purple", "purple2", "purple3", "yellow", "osc", "green"], "range": ["#ff1f1f", "#ff1f1f", "#2f63ff", "#9b30d9", "#9b30d9", "#9b30d9", "#ffff3a", "#ff2d2d", "#2fb52f"]}},
                      "order": {"field": "i", "type": "quantitative"}}},
        {"data": {"name": "s3"}, "mark": {"type": "square", "size": 9, "opacity": 1, "clip": true},
         "encoding": {"x": {"field": "i", "type": "quantitative"}, "y": {"field": "v", "type": "quantitative", "axis": null},
                      "color": {"condition": {"test": "datum.d === 'dn'", "value": "#ff0000"}, "value": "#33cc00"}}}
      ]
    },
    {
      "width": 55, "height": 509,
      "view": {"stroke": null, "fill": "#c8c8c8"},
      "data": {"name": "t3"},
      "transform": [
        {"calculate": "1", "as": "d0"}, {"calculate": "5", "as": "d1"}, {"calculate": "5.5", "as": "b0"},
        {"calculate": "10.5 + 5 * length(datum.lbl)", "as": "b1"}, {"calculate": "8", "as": "tx"}
      ],
      "layer": [
        {"mark": {"type": "rule", "strokeWidth": 1, "clip": true},
         "encoding": {"x": {"field": "d0", "type": "quantitative", "scale": {"domain": [0, 55], "nice": false, "zero": false}, "axis": null},
                      "x2": {"field": "d1"},
                      "y": {"field": "tick", "type": "quantitative", "scale": {"domain": [781.6, 1626.6], "nice": false, "zero": false},
                            "axis": {"orient": "right", "offset": -54, "values": [900, 1100, 1200, 1400, 1600], "title": null, "domain": false, "grid": false, "tickSize": 3, "tickColor": "#555555", "labelPadding": 2, "labelFont": "Liberation Sans", "labelFontWeight": "bold", "labelFontSize": 10.5, "labelColor": "#000000", "labelFlush": false, "labelOverlap": false, "labelExpr": "replace(format(datum.value, ','), ',', ' ')"}},
                      "color": {"condition": [{"test": "datum.k === 'price'", "value": "#000000"}, {"test": "datum.k === 'red'", "value": "#ff0000"}, {"test": "datum.k === 'blue'", "value": "#1a4dff"}, {"test": "datum.k === 'purple'", "value": "#8a1ed0"}, {"test": "datum.k === 'green'", "value": "#36c236"}, {"test": "datum.k === 'yellow'", "value": "#f2f200"}], "value": "#e8124c"}}},
        {"mark": {"type": "bar", "orient": "horizontal", "height": 15, "stroke": "#8e8e8e", "strokeWidth": 1, "clip": true},
         "encoding": {"x": {"field": "b0", "type": "quantitative"}, "x2": {"field": "b1"}, "y": {"field": "at", "type": "quantitative"},
                      "fill": {"condition": {"test": "datum.k === 'price'", "value": "#ffc800"}, "value": "#e8e8e8"}}},
        {"mark": {"type": "text", "align": "left", "baseline": "middle", "font": "Liberation Sans", "fontWeight": "bold", "fontSize": 10.5, "clip": true},
         "encoding": {"x": {"field": "tx", "type": "quantitative"}, "y": {"field": "at", "type": "quantitative"}, "text": {"field": "lbl"},
                      "color": {"condition": [{"test": "datum.k === 'price'", "value": "#000000"}, {"test": "datum.k === 'red'", "value": "#ff0000"}, {"test": "datum.k === 'blue'", "value": "#1a4dff"}, {"test": "datum.k === 'purple'", "value": "#8a1ed0"}, {"test": "datum.k === 'green'", "value": "#36c236"}, {"test": "datum.k === 'yellow'", "value": "#f2f200"}], "value": "#e8124c"}}}
      ]
    }
  ]
}
